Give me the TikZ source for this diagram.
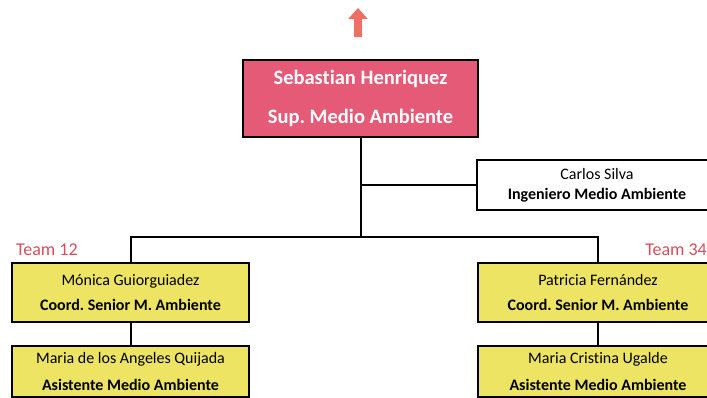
\documentclass[tikz,border=0pt]{standalone}
\usepackage{fontspec}
\setmainfont{Carlito}[Ligatures=NoCommon]
\usetikzlibrary{arrows.meta,positioning,calc}
\definecolor{rose}{HTML}{E55A76}
\definecolor{straw}{HTML}{ECE462}
\definecolor{teamred}{HTML}{D2505E}
\definecolor{salmon}{HTML}{EF6F62}
\tikzset{box/.style={draw=black,line width=2.4pt,align=center,inner sep=0pt},
  chief/.style={box,fill=rose,text=white,minimum width=235pt,minimum height=77pt,
    font=\fontsize{20.5}{39}\selectfont\bfseries},
  member/.style={box,fill=white,minimum width=240pt,minimum height=50pt,
    font=\fontsize{16}{20}\selectfont},
  coord/.style={member,fill=straw,minimum width=237pt,minimum height=59pt,
    font=\fontsize{16}{25}\selectfont},
  assist/.style={member,fill=straw,minimum width=237pt,minimum height=51pt,
    font=\fontsize{16}{27}\selectfont},
  team/.style={text=teamred,font=\fontsize{18}{20}\selectfont,inner sep=0pt},
  link/.style={line width=2pt,draw=black},
  uparrow/.style={line width=8pt,draw=salmon,-{Triangle[width=19pt,length=11pt]}}}

\begin{document}
\frenchspacing
\begin{tikzpicture}[x=1pt,y=-1pt]
\clip (0,0) rectangle (707,398);
\fill[white] (0,0) rectangle (707,398);
% arrow above the head of area
\coordinate (uptail) at (358,37);
\coordinate (uptip) at (358,8);
\draw[uparrow] (uptail)--(uptip);
% boxes
\node[chief] (chief) at (360.5,98.5){Sebastian Henriquez\\Sup. Medio Ambiente};
\node[member] (carlos) at (597,185){Carlos Silva\\\textbf{Ingeniero Medio Ambiente}};
\node[coord] (coordL) at (130.5,292.5){Mónica Guiorguiadez\\\textbf{Coord. Senior M. Ambiente}};
\node[coord,minimum width=240pt] (coordR) at (598,292.5){Patricia Fernández\\\textbf{Coord. Senior M. Ambiente}};
\node[assist] (asstL) at (130.5,371.5){Maria de los Angeles Quijada\\\textbf{Asistente Medio Ambiente}};
\node[assist,minimum width=240pt] (asstR) at (598,371.5){Maria Cristina Ugalde\\\textbf{Asistente Medio Ambiente}};
\node[team,anchor=west] (teamL) at (16,250){Team 12};
\node[team,anchor=east] (teamR) at (707,250){Team 34};
% lines
\coordinate (bus) at (360.5,238);
\draw[link] (chief.south)--(bus);
\draw[link] (chief.south |- carlos.west)--(carlos.west);
\draw[link] (coordL.north)--++(0,-25) -| (coordR.north);
\draw[link] (coordL.south)--(asstL.north);
\draw[link] (coordR.south)--(asstR.north);
\end{tikzpicture}
\end{document}
